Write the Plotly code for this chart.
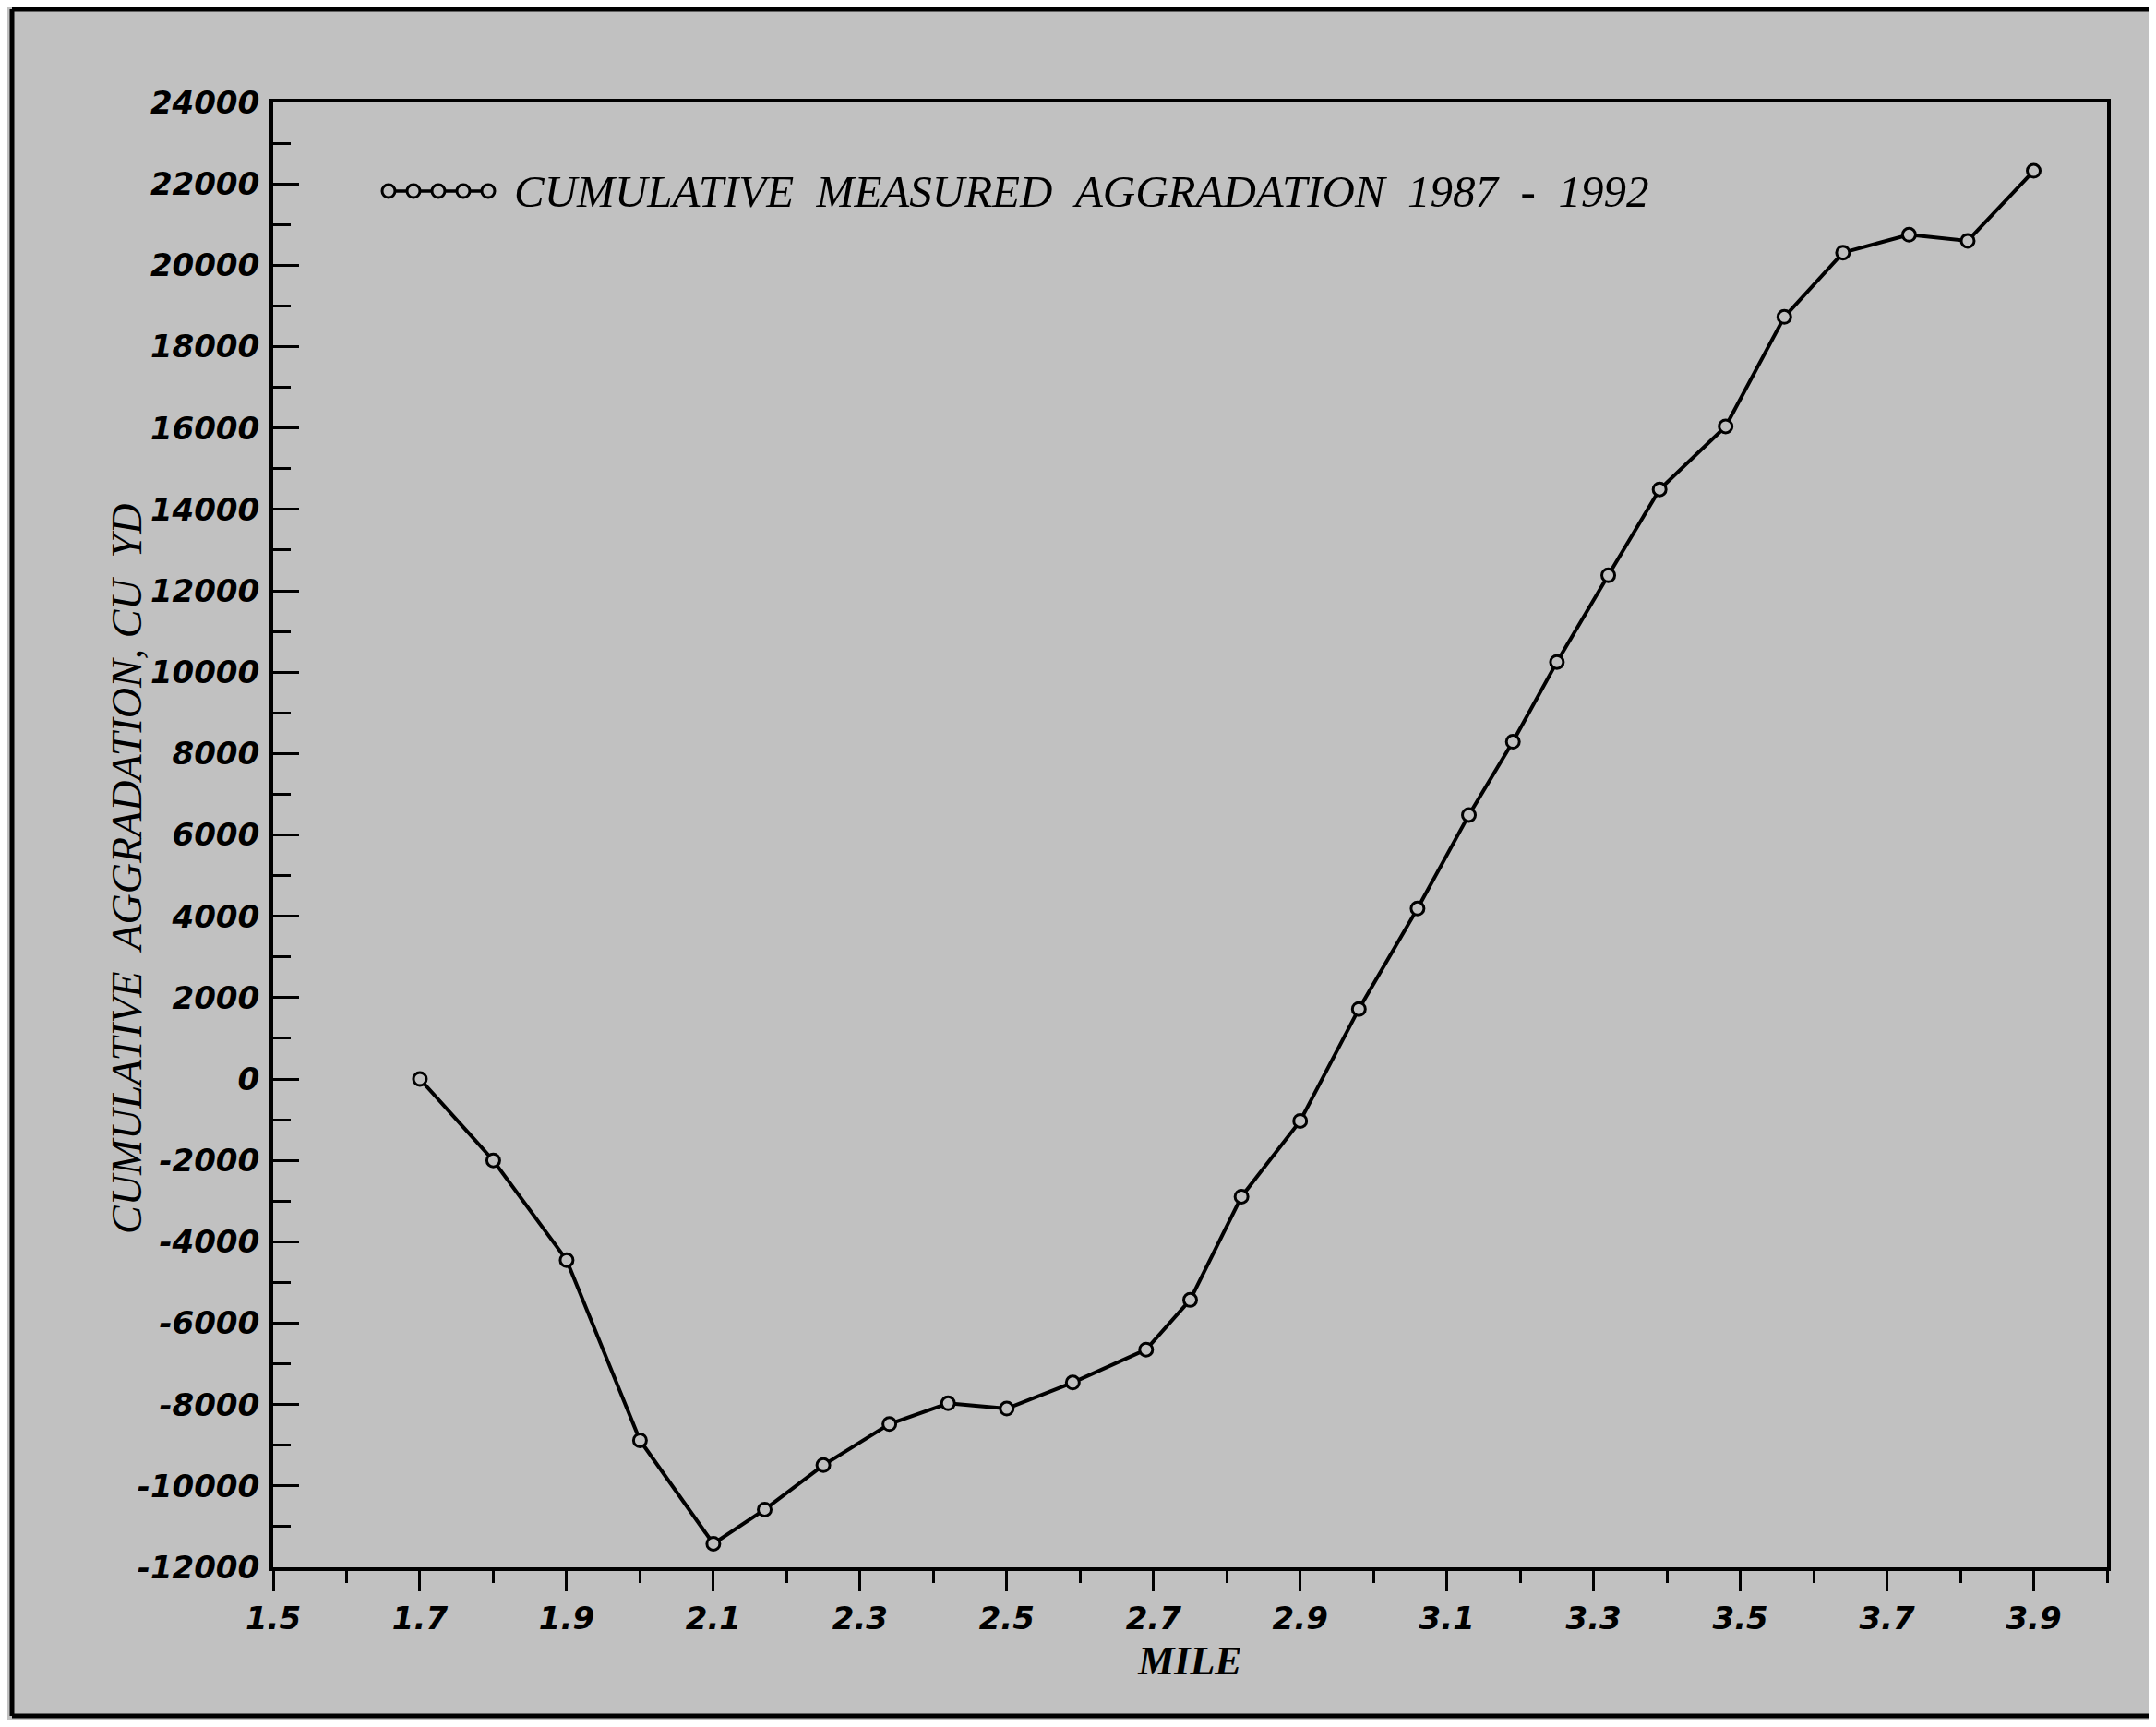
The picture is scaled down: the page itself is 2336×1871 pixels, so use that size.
import plotly.graph_objects as go

# ---- data ----
mile = [1.70, 1.80, 1.90, 2.00, 2.10, 2.17, 2.25, 2.34, 2.42, 2.50, 2.59, 2.69, 2.75, 2.82,
        2.90, 2.98, 3.06, 3.13, 3.19, 3.25, 3.32, 3.39, 3.48, 3.56, 3.64, 3.73, 3.81, 3.90]
aggradation = [0, -2000, -4450, -8880, -11420, -10580, -9490, -8480, -7970, -8100, -7460, -6650,
               -5430, -2890, -1030, 1720, 4190, 6490, 8290, 10250, 12380, 14490, 16040, 18730,
               20310, 20750, 20600, 22320]
series_name = "CUMULATIVE  MEASURED  AGGRADATION  1987  -  1992"
x_title = "MILE"
y_title = "CUMULATIVE  AGGRADATION, CU  YD"

x_tick_vals = [1.5, 1.7, 1.9, 2.1, 2.3, 2.5, 2.7, 2.9, 3.1, 3.3, 3.5, 3.7, 3.9]
x_tick_text = ["1.5", "1.7", "1.9", "2.1", "2.3", "2.5", "2.7", "2.9", "3.1", "3.3", "3.5", "3.7", "3.9"]
y_tick_vals = list(range(-12000, 24001, 2000))
y_tick_text = [str(v) for v in y_tick_vals]

# ---- layout geometry (figure pixels; the page adds an 8px body margin) ----
OFF = 8
W, H = 2336 - 2 * OFF, 1871 - 2 * OFF
L, R, T, B = 296 - OFF, 2283 - OFF, 111 - OFF, 1698 - OFF
BG = "rgb(193,193,193)"

def px(x):
    return (x - OFF - L) / (R - L)

def py(y):
    return (B - (y - OFF)) / (B - T)

fig = go.Figure()
fig.add_trace(go.Scatter(
    x=mile, y=aggradation, mode="lines+markers", name=series_name,
    line=dict(color="black", width=4),
    marker=dict(symbol="circle", size=14, color=BG, line=dict(color="black", width=3)),
    showlegend=False,
))

tick_font = dict(family="DejaVu Sans", size=34, color="black", weight="bold", style="italic")

fig.update_layout(
    width=W, height=H,
    margin=dict(l=L, r=W - R, t=T, b=H - B, autoexpand=False),
    paper_bgcolor=BG, plot_bgcolor=BG,
    xaxis=dict(
        range=[1.5, 4.0], tickmode="array", tickvals=x_tick_vals, ticktext=x_tick_text,
        ticks="outside", ticklen=22, tickwidth=3, tickcolor="black",
        minor=dict(tick0=1.5, dtick=0.1, ticks="outside", ticklen=13, tickwidth=3, tickcolor="black"),
        showline=True, linecolor="black", linewidth=4, mirror=True,
        showgrid=False, zeroline=False, tickfont=tick_font,
        title=dict(text=x_title, standoff=12,
                   font=dict(family="Liberation Serif", size=44, color="black", weight="bold", style="italic")),
    ),
    yaxis=dict(
        range=[-12000, 24000], tickmode="array", tickvals=y_tick_vals, ticktext=y_tick_text,
        ticks="inside", ticklen=28, tickwidth=3, tickcolor="black",
        minor=dict(tick0=-12000, dtick=1000, ticks="inside", ticklen=19, tickwidth=3, tickcolor="black"),
        showline=True, linecolor="black", linewidth=4, mirror=True,
        showgrid=False, zeroline=False, tickfont=tick_font, ticklabelstandoff=4,
    ),
    font=dict(family="Liberation Serif", color="black"),
)

# y-axis title (placed as in the original, slightly below the plot centre)
fig.add_annotation(xref="paper", yref="paper", x=px(137), y=py(942), xanchor="center", yanchor="middle",
                   text=y_title.replace(" ", "\u00a0"), textangle=-90, showarrow=False,
                   font=dict(family="Liberation Serif", size=46, color="black", style="italic"))

# legend (drawn as in the original: a line with five open circles, then the label)
lx0, lx1, ly = 414, 536, 207
fig.add_shape(type="line", xref="paper", yref="paper", x0=px(lx0), x1=px(lx1), y0=py(ly), y1=py(ly),
              line=dict(color="black", width=3.5))
r = 7
for cx in [421, 448, 475, 502, 529]:
    fig.add_shape(type="circle", xref="paper", yref="paper",
                  x0=px(cx - r), x1=px(cx + r), y0=py(ly + r), y1=py(ly - r),
                  fillcolor=BG, line=dict(color="black", width=3))
fig.add_annotation(xref="paper", yref="paper", x=px(555), y=py(ly), xanchor="left", yanchor="middle",
                   text=series_name.replace(" ", "\u00a0"), showarrow=False,
                   font=dict(family="Liberation Serif", size=49, color="black", style="italic"))

# outer page frame (left, top and bottom edges are visible in the scan)
frame = dict(color="black", width=5)
fig.add_shape(type="line", xref="paper", yref="paper", x0=px(13), x1=px(13), y0=py(1859), y1=py(10), line=frame)
fig.add_shape(type="line", xref="paper", yref="paper", x0=px(13), x1=px(2400), y0=py(10), y1=py(10), line=frame)
fig.add_shape(type="line", xref="paper", yref="paper", x0=px(13), x1=px(2400), y0=py(1859), y1=py(1859), line=frame)

fig.write_html("out.html")
